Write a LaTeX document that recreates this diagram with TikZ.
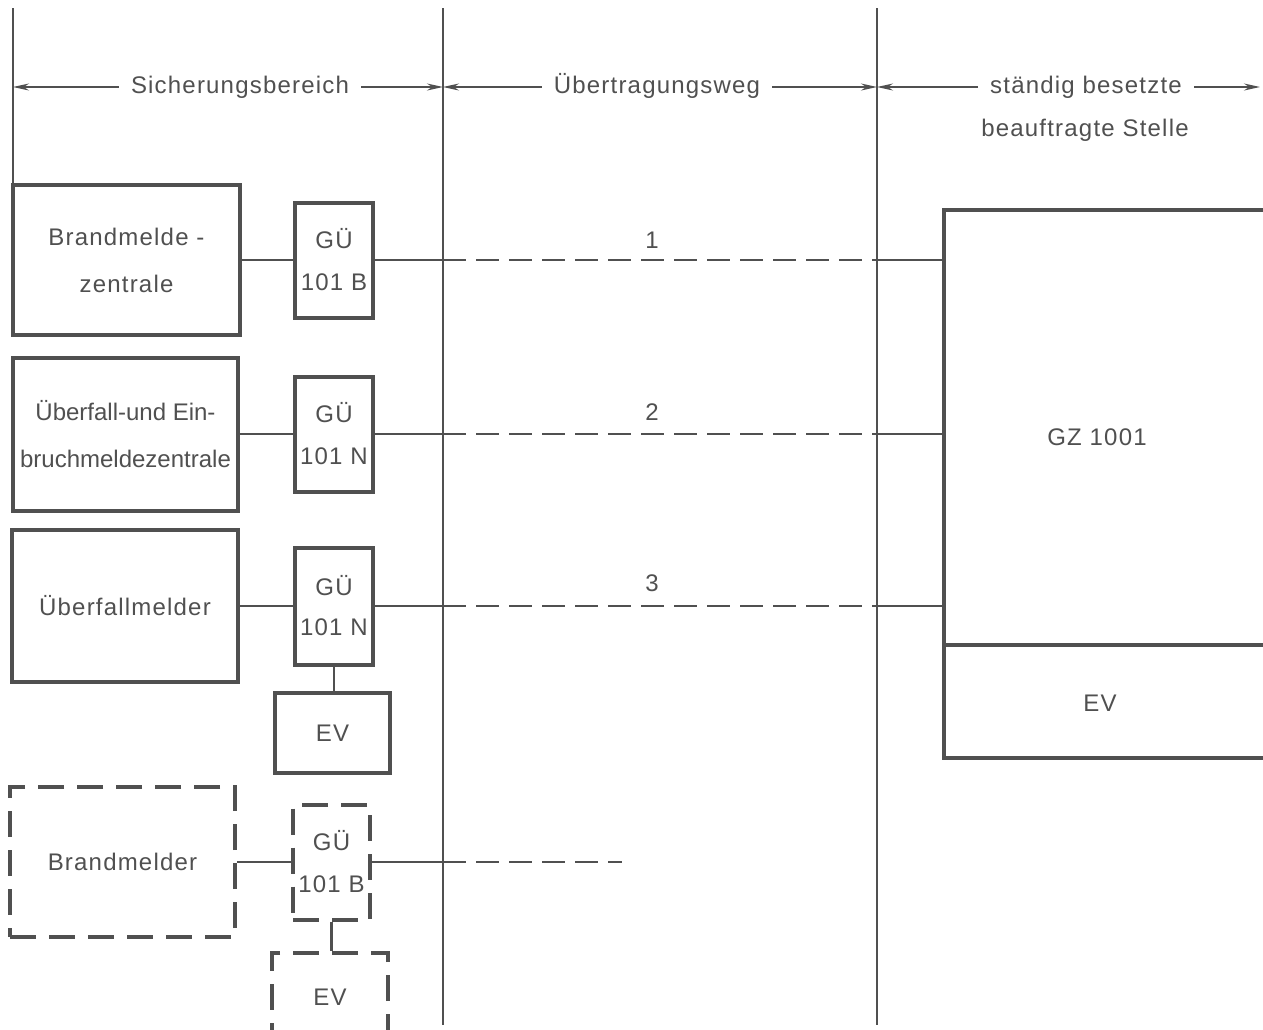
\documentclass[tikz,border=0pt]{standalone}
\usepackage{fontspec}
\setmainfont{Liberation Sans}[LetterSpace=5]
\newfontfamily\tightfont{Liberation Sans}
\usetikzlibrary{arrows.meta}
\definecolor{ink}{HTML}{505050}
\begin{document}
\begin{tikzpicture}[x=1pt,y=-1pt,
  every node/.style={text=ink, font=\fontsize{24}{29}\selectfont},
  box/.style={draw=ink, line width=4pt, line join=miter, rectangle, inner sep=0pt, align=center},
  dbox/.style={box, dash pattern=on 26pt off 13pt},
  wire/.style={draw=ink, line width=2.2pt},
  dwire/.style={wire, dash pattern=on 23pt off 10pt},
  divider/.style={draw=ink, line width=1.3pt},
  dim/.style={draw=ink, line width=1.5pt, -{Stealth[length=16pt,width=7pt]}},
  head/.style={inner xsep=12pt, text height=17pt, text depth=5pt},
]
\useasboundingbox (0,0) rectangle (1263,1029);
\fill[white] (0,0) rectangle (1263,1029);

% dividers
\coordinate (d0t) at (13,8);
\coordinate (d1t) at (443,8);
\coordinate (d1b) at (443,1025);
\coordinate (d2t) at (877,8);
\coordinate (d2b) at (877,1025);
\coordinate (rEnd) at (1260,87);
\draw[divider] (d1t) -- (d1b);
\draw[divider] (d2t) -- (d2b);

% header
\node[head] (h1) at (240,87) {Sicherungsbereich};
\node[head] (h2) at (657,87) {Übertragungsweg};
\node[head] (h3) at (1086,87) {ständig besetzte};
\node (h4) at (1085,130) {beauftragte Stelle};
\draw[dim] (h1.west) -- (h1.west -| d0t);
\draw[dim] (h1.east) -- (h1.east -| d1t);
\draw[dim] (h2.west) -- (h2.west -| d1t);
\draw[dim] (h2.east) -- (h2.east -| d2t);
\draw[dim] (h3.west) -- (h3.west -| d2t);
\draw[dim] (h3.east) -- (rEnd);

% central station
\node[box, minimum width=331pt, minimum height=435pt] (gz) at (1109.5,427.5) {};
\node[box, minimum width=331pt, minimum height=113pt] (ev0) at (1109.5,701.5) {};
\node (gzt) at (1097,437) {GZ 1001};
\node (ev0t) at (1100,703) {EV};

% row 1
\node[box, minimum width=227pt, minimum height=150pt] (z1) at (126.5,260) {Brandmelde -\\[18pt]zentrale};
\draw[divider] (d0t) -- (d0t |- z1.north);
\node[box, minimum width=78pt, minimum height=115pt] (g1) at (334,260) {GÜ\\[13pt]101 B};
\draw[wire] (z1.east) -- (g1.west);
\draw[wire] (g1.east) -- (g1.east -| d1t);
\draw[dwire] (g1.east -| d1t) -- (g1.east -| d2t);
\draw[wire] (g1.east -| d2t) -- (g1.east -| gz.west);
\node (n1) at (652,240) {1};

% row 2
\node[box, minimum width=225pt, minimum height=153pt] (z2) at (125.5,434) {\tightfont Überfall-und Ein-\\[18pt]\tightfont bruchmeldezentrale};
\node[box, minimum width=78pt, minimum height=115pt] (g2) at (334,434) {GÜ\\[13pt]101 N};
\draw[wire] (z2.east) -- (g2.west);
\draw[wire] (g2.east) -- (g2.east -| d1t);
\draw[dwire] (g2.east -| d1t) -- (g2.east -| d2t);
\draw[wire] (g2.east -| d2t) -- (g2.east -| gz.west);
\node (n2) at (652,412) {2};

% row 3
\node[box, minimum width=226pt, minimum height=152pt] (z3) at (125,606) {Überfallmelder};
\node[box, minimum width=78pt, minimum height=117pt] (g3) at (334,606) {GÜ\\[11pt]101 N};
\node[box, minimum width=115pt, minimum height=80pt] (ev3) at (332.5,733) {EV};
\draw[wire] (z3.east) -- (g3.west);
\draw[wire] (g3.east) -- (g3.east -| d1t);
\draw[dwire] (g3.east -| d1t) -- (g3.east -| d2t);
\draw[wire] (g3.east -| d2t) -- (g3.east -| gz.west);
\draw[wire] (g3.south) -- (g3.south |- ev3.north);
\node (n3) at (652,583) {3};

% row 4 (dashed)
\node[dbox, minimum width=225pt, minimum height=150pt] (z4) at (122.5,862) {Brandmelder};
\node[dbox, minimum width=77pt, minimum height=115pt] (g4) at (331.5,862) {GÜ\\[13pt]101 B};
\node[dbox, minimum width=116pt, minimum height=88pt] (ev4) at (330,997) {EV};
\coordinate (e4) at (622,862);
\draw[wire] (z4.east) -- (g4.west);
\draw[wire] (g4.east) -- (g4.east -| d1t);
\draw[dwire] (g4.east -| d1t) -- (e4);
\draw[wire] (g4.south) -- (g4.south |- ev4.north);
\end{tikzpicture}
\end{document}
